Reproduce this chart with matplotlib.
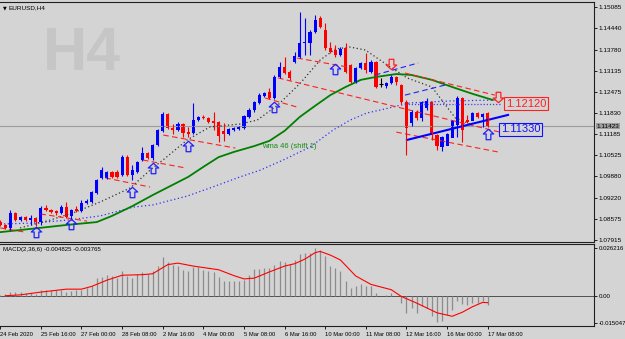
import numpy as np
import matplotlib
matplotlib.use("Agg")
import matplotlib.pyplot as plt
from matplotlib.path import Path

# EURUSD H4 candles, one per bar (bar 0 = 24 Feb 2020)
opens = [1.0847, 1.0838, 1.0829, 1.0875, 1.0853, 1.0863, 1.0853, 1.0860, 1.0847, 1.0890,
         1.0884, 1.0881, 1.0875, 1.0893, 1.0866, 1.0887, 1.0881, 1.0906, 1.0909, 1.0937,
         1.0983, 1.0983, 1.1001, 1.1001, 1.0992, 1.1047, 1.0992, 1.1001, 1.1038, 1.1060,
         1.1044, 1.1084, 1.1128, 1.1180, 1.1137, 1.1131, 1.1149, 1.1124, 1.1121, 1.1161,
         1.1171, 1.1168, 1.1158, 1.1155, 1.1128, 1.1118, 1.1131, 1.1134, 1.1137, 1.1171,
         1.1192, 1.1214, 1.1235, 1.1248, 1.1229, 1.1294, 1.1325, 1.1309, 1.1340, 1.1355,
         1.1399, 1.1399, 1.1432, 1.1476, 1.1439, 1.1383, 1.1377, 1.1362, 1.1383, 1.1331,
         1.1278, 1.1322, 1.1337, 1.1309, 1.1340, 1.1272, 1.1266, 1.1275, 1.1294, 1.1269,
         1.1217, 1.1152, 1.1186, 1.1168, 1.1198, 1.1217, 1.1115, 1.1078, 1.1081, 1.1106,
         1.1146, 1.1229, 1.1161, 1.1158, 1.1183, 1.1171, 1.1183]
closes = [1.0838, 1.0829, 1.0875, 1.0853, 1.0863, 1.0853, 1.0860, 1.0847, 1.0890, 1.0884,
          1.0878, 1.0875, 1.0893, 1.0863, 1.0884, 1.0881, 1.0906, 1.0912, 1.0940, 1.0977,
          1.1007, 1.1001, 1.0986, 1.0986, 1.1047, 1.0992, 1.1007, 1.1032, 1.1060, 1.1044,
          1.1084, 1.1131, 1.1180, 1.1137, 1.1131, 1.1149, 1.1121, 1.1118, 1.1161, 1.1171,
          1.1168, 1.1155, 1.1152, 1.1112, 1.1118, 1.1134, 1.1137, 1.1140, 1.1174, 1.1192,
          1.1217, 1.1238, 1.1245, 1.1229, 1.1294, 1.1325, 1.1306, 1.1291, 1.1359, 1.1399,
          1.1402, 1.1432, 1.1469, 1.1448, 1.1383, 1.1371, 1.1362, 1.1380, 1.1309, 1.1278,
          1.1322, 1.1337, 1.1315, 1.1340, 1.1263, 1.1272, 1.1275, 1.1294, 1.1278, 1.1217,
          1.1137, 1.1186, 1.1168, 1.1217, 1.1220, 1.1115, 1.1081, 1.1109, 1.1118, 1.1158,
          1.1229, 1.1131, 1.1155, 1.1183, 1.1171, 1.1180, 1.1142]
highs = [1.0853, 1.0841, 1.0884, 1.0878, 1.0866, 1.0866, 1.0869, 1.0863, 1.0896, 1.0900,
         1.0887, 1.0884, 1.0900, 1.0909, 1.0887, 1.0896, 1.0915, 1.0918, 1.0943, 1.0980,
         1.1017, 1.1004, 1.1004, 1.1007, 1.1054, 1.1054, 1.1023, 1.1035, 1.1078, 1.1063,
         1.1088, 1.1134, 1.1186, 1.1183, 1.1149, 1.1155, 1.1152, 1.1140, 1.1214, 1.1174,
         1.1177, 1.1171, 1.1186, 1.1158, 1.1152, 1.1137, 1.1140, 1.1143, 1.1177, 1.1198,
         1.1220, 1.1245, 1.1248, 1.1260, 1.1300, 1.1340, 1.1355, 1.1315, 1.1371, 1.1494,
         1.1476, 1.1439, 1.1485, 1.1482, 1.1460, 1.1402, 1.1392, 1.1386, 1.1399, 1.1334,
         1.1325, 1.1340, 1.1368, 1.1346, 1.1343, 1.1291, 1.1278, 1.1300, 1.1297, 1.1272,
         1.1223, 1.1192, 1.1192, 1.1220, 1.1229, 1.1220, 1.1118, 1.1112, 1.1121, 1.1161,
         1.1235, 1.1232, 1.1177, 1.1186, 1.1186, 1.1183, 1.1186]
lows = [1.0835, 1.0826, 1.0823, 1.0850, 1.0850, 1.0850, 1.0838, 1.0835, 1.0838, 1.0881,
        1.0875, 1.0869, 1.0872, 1.0860, 1.0853, 1.0878, 1.0878, 1.0903, 1.0906, 1.0934,
        1.0980, 1.0980, 1.0983, 1.0983, 1.0989, 1.0989, 1.0977, 1.0998, 1.1035, 1.1041,
        1.1038, 1.1081, 1.1124, 1.1134, 1.1118, 1.1128, 1.1109, 1.1109, 1.1118, 1.1158,
        1.1165, 1.1152, 1.1131, 1.1094, 1.1097, 1.1115, 1.1128, 1.1131, 1.1134, 1.1168,
        1.1186, 1.1211, 1.1232, 1.1226, 1.1226, 1.1291, 1.1303, 1.1285, 1.1337, 1.1352,
        1.1362, 1.1362, 1.1429, 1.1445, 1.1377, 1.1368, 1.1355, 1.1359, 1.1306, 1.1275,
        1.1275, 1.1318, 1.1306, 1.1306, 1.1260, 1.1263, 1.1260, 1.1272, 1.1269, 1.1211,
        1.1054, 1.1143, 1.1161, 1.1158, 1.1192, 1.1100, 1.1069, 1.1066, 1.1091, 1.1140,
        1.1109, 1.1094, 1.1152, 1.1168, 1.1168, 1.1140, 1.1140]

# wma 46 (shift 1), read at a few bars
wma_bar = [0, 6, 13, 19, 22, 26, 30, 37, 40, 43, 46, 50, 53, 56, 59, 62, 65, 68, 71, 74, 78, 81, 85, 89, 93, 97]
wma_val = [1.0816, 1.0826, 1.0838, 1.0847, 1.0866, 1.0896, 1.0930, 1.0986, 1.1017, 1.1047, 1.1063,
           1.1081, 1.1097, 1.1128, 1.1171, 1.1205, 1.1238, 1.1263, 1.1285, 1.1294, 1.1303,
           1.1300, 1.1285, 1.1263, 1.1242, 1.1223]
# fast ma (black dotted)
fast_bar = [3.9, 9.8, 14.8, 19.7, 25.6, 29.5, 32.5, 36.8, 41.3, 47.2, 50.6, 54.7, 59.1, 63, 66,
            68.9, 71.9, 76.2, 80.1, 85, 89.6, 92.5]
fast_val = [1.0829, 1.0853, 1.0878, 1.0909, 1.0952, 1.1007, 1.1044, 1.1100, 1.1140, 1.1149, 1.1161,
            1.1208, 1.1275, 1.1346, 1.1380, 1.1386, 1.1377, 1.1331, 1.1291, 1.1263, 1.1168, 1.1149]
# slow ma (blue dotted)
slow_bar = [0, 6.5, 13.2, 19.7, 26.2, 30.1, 36.8, 41.3, 47.2, 51.2, 55.7, 61, 65.6, 68.9, 72.2,
            74.8, 80.7, 88.6, 97.8]
slow_val = [1.0841, 1.0844, 1.0853, 1.0866, 1.0893, 1.0900, 1.0927, 1.0952, 1.0986, 1.1007, 1.1038,
            1.1078, 1.1131, 1.1161, 1.1183, 1.1192, 1.1214, 1.1220, 1.1223]

# red dashed trend lines (bar0, price0, bar1, price1)
red_lines = [
    (0.0, 1.0829, 4.9, 1.0816),
    (7.9, 1.0872, 17.1, 1.0850),
    (20.7, 1.0983, 29.5, 1.0955),
    (28.1, 1.1038, 36.4, 1.1014),
    (32.1, 1.1115, 46.3, 1.1075),
    (52.2, 1.1229, 58.5, 1.1201),
    (54.7, 1.1291, 98.4, 1.1124),
    (58.5, 1.1352, 68.3, 1.1325),
    (79.7, 1.1306, 97.4, 1.1238),
    (78.0, 1.1124, 98.0, 1.1063),
]
blue_dash = [
    (73.8, 1.1300, 82.3, 1.1337),
    (79.7, 1.1238, 87.6, 1.1269),
]
blue_trend = (80.1, 1.1100, 100.0, 1.1177)
level_1212 = 1.1212

up_bar = [7, 14, 26, 30, 37, 54, 66, 96]
up_val = [1.0816, 1.0841, 1.0940, 1.1014, 1.1081, 1.1201, 1.1318, 1.1118]
dn_bar = [77, 98]
dn_val = [1.1334, 1.1232]

bid = 1.11423
price_ticks = [1.15085, 1.14440, 1.13780, 1.13135, 1.12475, 1.11830, 1.11185,
               1.10525, 1.09880, 1.09220, 1.08575, 1.07915]

# MACD(2,36,6) histogram and signal
macd = [0.0005, 0.0012, 0.0020, 0.0020, 0.0020, 0.0015, 0.0013, 0.0009, 0.0033, 0.0033,
        0.0033, 0.0029, 0.0033, 0.0020, 0.0027, 0.0029, 0.0029, 0.0042, 0.0051, 0.0096,
        0.0104, 0.0115, 0.0106, 0.0096, 0.0137, 0.0106, 0.0096, 0.0118, 0.0127, 0.0120,
        0.0137, 0.0160, 0.0211, 0.0182, 0.0166, 0.0160, 0.0138, 0.0133, 0.0157, 0.0155,
        0.0142, 0.0137, 0.0129, 0.0102, 0.0078, 0.0078, 0.0078, 0.0078, 0.0087, 0.0111,
        0.0146, 0.0147, 0.0151, 0.0151, 0.0166, 0.0191, 0.0184, 0.0173, 0.0197, 0.0229,
        0.0233, 0.0235, 0.0262, 0.0251, 0.0215, 0.0160, 0.0151, 0.0133, 0.0078, 0.0042,
        0.0051, 0.0064, 0.0051, 0.0051, 0.0015, 0.0000, 0.0002, 0.0015, 0.0001, -0.0040,
        -0.0095, -0.0067, -0.0095, -0.0058, -0.0067, -0.0113, -0.0144, -0.0137, -0.0104, -0.0076,
        -0.0031, -0.0046, -0.0053, -0.0040, -0.0040, -0.0031, -0.0048]
sig_bar = [1, 4, 8, 13, 16, 18, 21, 24, 28, 30, 33, 35, 38, 43, 46, 48, 50, 53, 56, 58, 60,
           62, 63, 65, 67, 70, 73, 77, 79, 82, 86, 89, 91, 93, 95, 96]
sig_val = [0.0000, 0.0005, 0.0020, 0.0036, 0.0036, 0.0051, 0.0085, 0.0112, 0.0115, 0.0120,
           0.0170, 0.0178, 0.0162, 0.0142, 0.0110, 0.0092, 0.0096, 0.0130, 0.0162, 0.0175,
           0.0200, 0.0235, 0.0242, 0.0222, 0.0195, 0.0108, 0.0062, 0.0033, -0.0004, -0.0040,
           -0.0093, -0.0112, -0.0090, -0.0060, -0.0036, -0.0038]

date_labels = ['24 Feb 2020', '25 Feb 16:00', '27 Feb 00:00', '28 Feb 08:00', '2 Mar 16:00',
               '4 Mar 00:00', '5 Mar 08:00', '6 Mar 16:00', '10 Mar 00:00', '11 Mar 08:00',
               '12 Mar 16:00', '16 Mar 00:00', '17 Mar 08:00']

bg = '#d4d4d4'
plt.rcParams['font.family'] = ['Liberation Sans', 'DejaVu Sans']

fig = plt.figure(figsize=(6.25, 3.39), dpi=100, facecolor=bg)
ax = fig.add_axes([0, 0.2861, 594 / 625, 0.7080], facecolor=bg)
ax2 = fig.add_axes([0, 0.0383, 594 / 625, 0.2419], facecolor=bg, sharex=ax)

xmax = 594 / 5.08
ax.set_xlim(-0.05, xmax)
ax.set_ylim(1.07856, 1.15248)

ax.text(0.073, 0.78, 'H4', transform=ax.transAxes, fontsize=44, fontweight='bold',
        color='#c6c6c6', ha='left', va='center')

ax.axhline(bid, color='#9c9c9c', lw=0.8)

# indicator lines
ax.plot(slow_bar, slow_val, color='#3030ff', lw=0.9, ls=(0, (1, 2)))
ax.plot(fast_bar, fast_val, color='#303030', lw=0.9, ls=(0, (1, 2)))
ax.plot(wma_bar, wma_val, color='#008000', lw=1.3)
for x0, y0, x1, y1 in red_lines:
    ax.plot([x0, x1], [y0, y1], color='#ff2020', lw=0.8, ls=(0, (5, 3)))
for x0, y0, x1, y1 in blue_dash:
    ax.plot([x0, x1], [y0, y1], color='#2020ff', lw=0.8, ls=(0, (5, 3)))
ax.plot([79.7, 98.4], [level_1212, level_1212], color='#4040ff', lw=0.9, ls=(0, (1, 1.5)))
ax.plot([blue_trend[0], blue_trend[2]], [blue_trend[1], blue_trend[3]], color='#0000ff', lw=1.5)

# candles
for i in range(len(opens)):
    o, c, h, l = opens[i], closes[i], highs[i], lows[i]
    if c > o:
        col = '#0000ff'
    elif c < o:
        col = '#ff0000'
    else:
        col = '#000000'
    ax.vlines(i, l, h, color=col, lw=0.8)
    if c != o:
        ax.bar(i, abs(c - o), bottom=min(o, c), width=0.62, color=col, lw=0)
    else:
        ax.hlines(o, i - 0.35, i + 0.35, color=col, lw=0.8)

# hollow arrows
up_path = Path([(-1, 0.1), (0, 1), (1, 0.1), (0.45, 0.1), (0.45, -1), (-0.45, -1), (-0.45, 0.1), (-1, 0.1)],
               [Path.MOVETO] + [Path.LINETO] * 6 + [Path.CLOSEPOLY])
dn_path = Path([(-1, -0.1), (0, -1), (1, -0.1), (0.45, -0.1), (0.45, 1), (-0.45, 1), (-0.45, -0.1), (-1, -0.1)],
               [Path.MOVETO] + [Path.LINETO] * 6 + [Path.CLOSEPOLY])
ax.plot(up_bar, up_val, ls='none', marker=up_path, ms=7.5, mfc='none', mec='#2020ff', mew=0.9)
ax.plot(dn_bar, dn_val, ls='none', marker=dn_path, ms=7.5, mfc='none', mec='#ff2020', mew=0.9)

ax.text(51.6, 1.1081, 'wma 46 (shift 1)', color='#109010', fontsize=5.5, va='center', ha='left')
ax.text(99.6, level_1212, '1.12120', color='#ff2020', fontsize=8, va='center', ha='left',
        bbox=dict(boxstyle='square,pad=0.15', fc=bg, ec='#ff2020', lw=0.8))
ax.text(98.6, 1.1133, '1.11330', color='#1010ff', fontsize=8, va='center', ha='left',
        bbox=dict(boxstyle='square,pad=0.15', fc=bg, ec='#1010ff', lw=0.8))

# right price axis
ax.yaxis.tick_right()
ax.set_yticks(price_ticks)
ax.set_yticklabels(['%.5f' % p for p in price_ticks])
ax.tick_params(axis='y', length=2, width=0.6, labelsize=4.6, pad=1.5, colors='black')
ax.tick_params(axis='x', bottom=False, labelbottom=False)
ax.text(1.004, bid, '%.5f' % bid, transform=ax.get_yaxis_transform(), fontsize=4.6,
        color='black', va='center', ha='left',
        bbox=dict(boxstyle='square,pad=0.1', fc='#9c9c9c', ec='none'))
ax.spines['left'].set_visible(False)
for s in ['top', 'bottom', 'right']:
    ax.spines[s].set_color('#202020')
    ax.spines[s].set_linewidth(0.8)

fig.text(0.004, 0.978, '\u25bc', fontsize=3.5, color='black', va='center', ha='left', family='DejaVu Sans')
fig.text(0.014, 0.978, 'EURUSD,H4', fontsize=4.6, color='black', va='center', ha='left')

# MACD panel
ax2.set_ylim(-0.01652, 0.02824)
ax2.axhline(0, color='#505050', lw=0.7)
ax2.vlines(range(len(macd)), 0, macd, color='#8c8c8c', lw=0.9)
ax2.plot(sig_bar, sig_val, color='#ff0000', lw=0.8)
ax2.text(0.005, 0.93, 'MACD(2,36,6) -0.004825 -0.003765', transform=ax2.transAxes,
         fontsize=4.4, va='center', ha='left')
ax2.yaxis.tick_right()
ax2.set_yticks([0.026216, 0.0, -0.015047])
ax2.set_yticklabels(['0.026216', '0.00', '-0.015047'])
ax2.tick_params(axis='y', length=2, width=0.6, labelsize=4.4, pad=1.2)
ax2.set_xticks(range(0, 97, 8))
ax2.set_xticklabels(date_labels, ha='left')
ax2.tick_params(axis='x', length=2.5, width=0.6, labelsize=4.2, pad=1.5)
ax2.spines['left'].set_visible(False)
for s in ['top', 'bottom', 'right']:
    ax2.spines[s].set_color('#202020')
    ax2.spines[s].set_linewidth(0.8)

fig.savefig('out.png', dpi=100, facecolor=bg)
